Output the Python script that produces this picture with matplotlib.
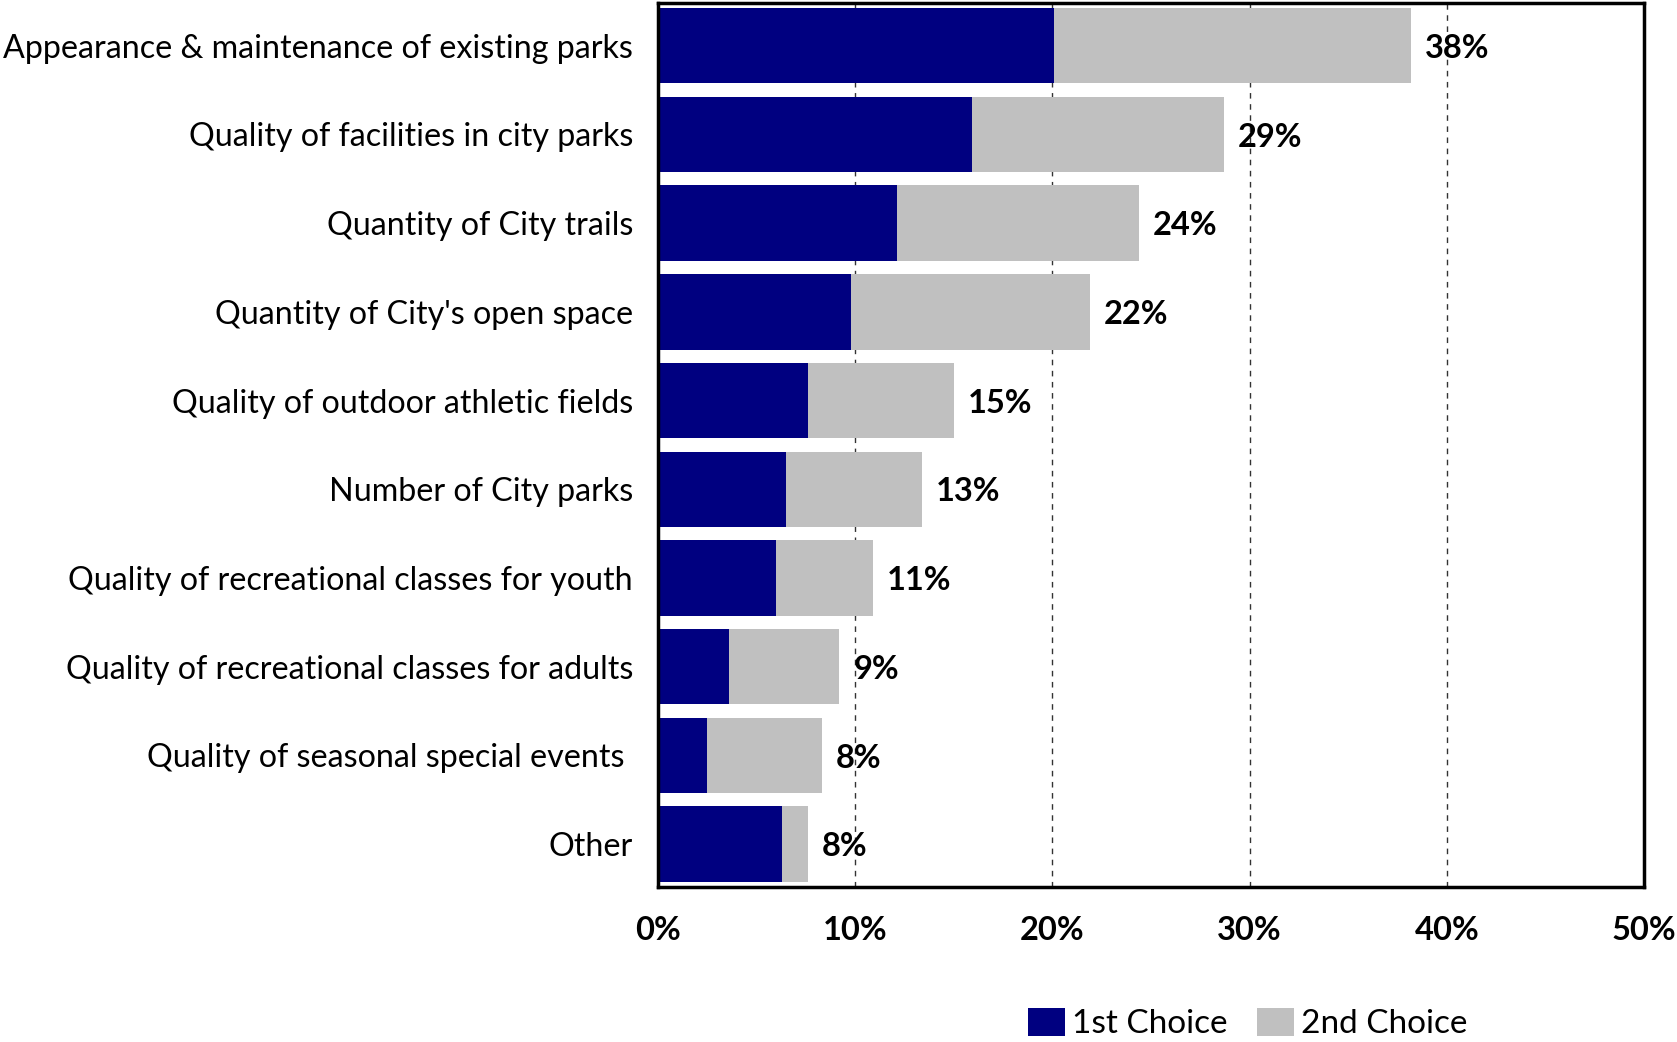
import numpy as np
import matplotlib.pyplot as plt

plt.rcParams['font.family'] = ['Lato', 'DejaVu Sans']

categories = [
    "Appearance & maintenance of existing parks",
    "Quality of facilities in city parks",
    "Quantity of City trails",
    "Quantity of City's open space",
    "Quality of outdoor athletic fields",
    "Number of City parks",
    "Quality of recreational classes for youth",
    "Quality of recreational classes for adults",
    "Quality of seasonal special events ",
    "Other",
]
first_choice = [20.1, 15.9, 12.1, 9.8, 7.6, 6.5, 6.0, 3.6, 2.5, 6.3]
second_choice = [18.1, 12.8, 12.3, 12.1, 7.4, 6.9, 4.9, 5.6, 5.8, 1.3]
totals = [38, 29, 24, 22, 15, 13, 11, 9, 8, 8]
x_ticks = [0, 10, 20, 30, 40, 50]

NAVY = "#000080"
GRAY = "#C0C0C0"

fig = plt.figure(figsize=(16.77, 10.42), dpi=100)
ax = fig.add_axes([0.3924, 0.149, 0.5879, 0.848])

y = np.arange(len(categories))
ax.barh(y, first_choice, height=0.85, color=NAVY, label="1st Choice", zorder=2)
ax.barh(y, second_choice, left=first_choice, height=0.85, color=GRAY,
        label="2nd Choice", zorder=2)

# total labels to the right of each bar
for yi, f, s, t in zip(y, first_choice, second_choice, totals):
    ax.text(f + s + 0.7, yi + 0.03, f"{t}%", va="center", ha="left",
            fontsize=23.5, fontweight="bold", zorder=3)

ax.set_xlim(0, 50)
ax.set_ylim(len(categories) - 0.52, -0.48)
ax.set_xticks(x_ticks)
ax.set_xticklabels([f"{v}%" for v in x_ticks], fontsize=23.5, fontweight="bold")
ax.set_yticks(y)
ax.set_yticklabels(categories, fontsize=23.2)
ax.tick_params(axis="both", length=0)
ax.tick_params(axis="x", pad=21)
ax.tick_params(axis="y", pad=18)

for v in x_ticks[1:-1]:
    ax.axvline(v, color="#333333", linestyle=(0, (4, 4)), linewidth=1.0, zorder=1)

for sp in ax.spines.values():
    sp.set_linewidth(2.5)
    sp.set_color("black")

ax.legend(loc="center", bbox_to_anchor=(0.598, -0.155), ncol=2,
          frameon=False, fontsize=24, handlelength=1.1, handleheight=0.9,
          handletextpad=0.2, columnspacing=0.9, borderaxespad=0)

fig.savefig("out.png", dpi=100)
